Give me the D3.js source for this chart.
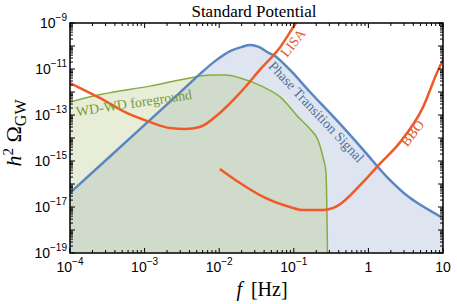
<!DOCTYPE html>
<html>
<head>
<meta charset="utf-8">
<script src="https://d3js.org/d3.v7.min.js"></script>
<style>
  body { margin: 0; background: #fff; }
  svg { display: block; }
  .serif { font-family: "Liberation Serif", "DejaVu Serif", serif; }
  .sans { font-family: "Liberation Sans", Arial, sans-serif; }
</style>
</head>
<body>
<svg width="457" height="304"></svg>
<script>
// phase transition signal (blue)
var ptFreq = [1e-4, 1e-3, 2.95e-3, 5.5e-3, 8.8e-3, 1.4e-2, 2.0e-2, 2.6e-2, 3.4e-2, 4.6e-2, 5.6e-2, 8.9e-2, 0.165, 0.417, 0.9, 1.78, 3.6, 10];
var ptOmega = [4.1e-17, 3.7e-14, 9.1e-13, 6.0e-12, 2.2e-11, 6.0e-11, 9.1e-11, 1.1e-10, 9.1e-11, 5.0e-11, 3.7e-11, 9.1e-12, 1.0e-12, 4.1e-14, 2.5e-15, 2.0e-16, 2.5e-17, 3.3e-18];

// WD-WD foreground (green)
var wdFreq = [1e-4, 2.75e-4, 1.17e-3, 4.1e-3, 7.6e-3, 1.2e-2, 1.9e-2, 3.9e-2, 6.6e-2, 0.121, 0.165, 0.211, 0.246, 0.27, 0.283];
var wdOmega = [3.7e-13, 8.1e-13, 1.8e-12, 4.1e-12, 5.5e-12, 5.5e-12, 4.1e-12, 1.66e-12, 6.0e-13, 6.8e-14, 2.45e-14, 8.1e-15, 1.5e-15, 3.3e-16, 1e-19];

// LISA sensitivity (orange)
var lisaFreq = [1e-4, 2.5e-4, 5.75e-4, 1.17e-3, 2.2e-3, 3.5e-3, 5.5e-3, 1.02e-2, 1.9e-2, 3.5e-2, 6.6e-2, 0.107, 0.16];
var lisaOmega = [2.45e-12, 5.5e-13, 1.23e-13, 5.0e-14, 2.7e-14, 2.45e-14, 3.0e-14, 1.23e-13, 9.1e-13, 9.1e-12, 9.1e-11, 1e-9, 6e-9];

// BBO sensitivity (orange)
var bboFreq = [0.0102, 0.019, 0.035, 0.089, 0.13, 0.245, 0.38, 0.78, 1.45, 2.6, 5.4, 8.3, 10.7];
var bboOmega = [4.5e-16, 1.1e-16, 3.3e-17, 1.0e-17, 7.4e-18, 7.4e-18, 1.1e-17, 9.1e-17, 8.1e-16, 6.0e-15, 2.2e-13, 6.8e-12, 4.1e-11];

var xTickExp = [-4, -3, -2, -1, 0, 1];
var xTickText = ["10", "10", "10", "10", "1", "10"];
var xTickSup = ["\u22124", "\u22123", "\u22122", "\u22121", "", ""];
var yLabelExp = [-9, -11, -13, -15, -17, -19];

var colBlue = "#5b86c2", colGreen = "#86ad3e", colOrange = "#f05a28";

var svg = d3.select("svg");
var mLeft = 70, mRight = 443, mTop = 23, mBottom = 253;

var x = d3.scaleLog().domain([1e-4, 10]).range([mLeft, mRight]);
var y = d3.scaleLog().domain([1e-19, 1e-9]).range([mBottom, mTop]);

function zip(a, b) { return a.map(function(d, i) { return [d, b[i]]; }); }

svg.append("clipPath").attr("id", "plotclip")
  .append("rect").attr("x", mLeft).attr("y", mTop)
  .attr("width", mRight - mLeft).attr("height", mBottom - mTop);

var g = svg.append("g").attr("clip-path", "url(#plotclip)");

function areaWith(curve) {
  return d3.area()
    .x(function(d) { return x(d[0]); })
    .y0(mBottom)
    .y1(function(d) { return y(d[1]); })
    .curve(curve);
}
function lineWith(curve) {
  return d3.line()
    .x(function(d) { return x(d[0]); })
    .y(function(d) { return y(d[1]); })
    .curve(curve);
}
var smooth = d3.curveCatmullRom.alpha(0.5);

var ptData = zip(ptFreq, ptOmega);
var wdData = zip(wdFreq, wdOmega);

g.append("path").attr("d", areaWith(smooth)(ptData)).attr("fill", "#dee5f0");
g.append("path").attr("d", areaWith(d3.curveMonotoneX)(wdData)).attr("fill", "rgb(176,194,120)").attr("fill-opacity", 0.3);
g.append("path").attr("d", lineWith(d3.curveMonotoneX)(wdData)).attr("fill", "none").attr("stroke", colGreen).attr("stroke-width", 1.5);
g.append("path").attr("d", lineWith(smooth)(ptData)).attr("fill", "none").attr("stroke", colBlue).attr("stroke-width", 2.5);
g.append("path").attr("d", lineWith(d3.curveMonotoneX)(zip(lisaFreq, lisaOmega))).attr("fill", "none").attr("stroke", colOrange).attr("stroke-width", 2.5);
g.append("path").attr("d", lineWith(d3.curveMonotoneX)(zip(bboFreq, bboOmega))).attr("fill", "none").attr("stroke", colOrange).attr("stroke-width", 2.5);

// curve labels
function curveLabel(text, f, om, angle, color) {
  svg.append("text").attr("class", "serif")
    .attr("transform", "translate(" + x(f) + "," + y(om) + ") rotate(" + angle + ")")
    .attr("text-anchor", "middle").attr("dominant-baseline", "central")
    .attr("font-size", 14).attr("fill", color).text(text);
}
curveLabel("WD-WD foreground", 7.2e-4, 3.3e-13, -8.5, "#7a9a3c");
curveLabel("LISA", 0.098, 1.35e-10, -52, "#e0582c");
curveLabel("Phase Transition Signal", 0.2, 1.35e-13, 47, "#4f6f9a");
curveLabel("BBO", 3.9, 1.6e-14, -52, "#e0582c");

// ticks on all four sides, pointing inward
var frame = svg.append("g").attr("stroke", "#000");
var minorX = [];
d3.range(-4, 1).forEach(function(e) { for (var k = 2; k <= 9; k++) minorX.push(k * Math.pow(10, e)); });
var majorX = xTickExp.map(function(e) { return Math.pow(10, e); });
var minorY = [];
d3.range(-19, -9).forEach(function(e) { for (var k = 2; k <= 9; k++) minorY.push(k * Math.pow(10, e)); });
var majorY = d3.range(-19, -8).map(function(e) { return Math.pow(10, e); });

function xTicks(vals, len) {
  vals.forEach(function(v) {
    var px = x(v);
    frame.append("line").attr("x1", px).attr("x2", px).attr("y1", mBottom).attr("y2", mBottom - len).attr("stroke-width", 1);
    frame.append("line").attr("x1", px).attr("x2", px).attr("y1", mTop).attr("y2", mTop + len).attr("stroke-width", 1);
  });
}
function yTicks(vals, len) {
  vals.forEach(function(v) {
    var py = y(v);
    frame.append("line").attr("y1", py).attr("y2", py).attr("x1", mLeft).attr("x2", mLeft + len).attr("stroke-width", 1);
    frame.append("line").attr("y1", py).attr("y2", py).attr("x1", mRight).attr("x2", mRight - len).attr("stroke-width", 1);
  });
}
xTicks(minorX, 3);
xTicks(majorX, 5);
yTicks(minorY, 3);
yTicks(majorY, 5);

frame.append("rect").attr("x", mLeft).attr("y", mTop)
  .attr("width", mRight - mLeft).attr("height", mBottom - mTop)
  .attr("fill", "none").attr("stroke-width", 1.5);

// tick labels
xTickExp.forEach(function(e, i) {
  var t = svg.append("text").attr("class", "sans").attr("font-size", 14)
    .attr("x", x(Math.pow(10, e))).attr("y", 272).attr("text-anchor", "middle");
  t.append("tspan").text(xTickText[i]);
  if (xTickSup[i]) t.append("tspan").attr("font-size", 10).attr("dy", -7).text(xTickSup[i]);
});
yLabelExp.forEach(function(e) {
  var t = svg.append("text").attr("class", "sans").attr("font-size", 14)
    .attr("x", 67).attr("y", y(Math.pow(10, e)) + 5).attr("text-anchor", "end");
  t.append("tspan").text("10");
  t.append("tspan").attr("font-size", 10).attr("dy", -7).text("\u2212" + (-e));
});

// titles
svg.append("text").attr("class", "serif").attr("font-size", 17)
  .attr("x", 254).attr("y", 17).attr("text-anchor", "middle")
  .text("Standard Potential");

var xl = svg.append("text").attr("class", "serif").attr("font-size", 20)
  .attr("x", 262).attr("y", 296).attr("text-anchor", "middle");
xl.append("tspan").attr("font-style", "italic").text("f");
xl.append("tspan").text("\u2009 [Hz]");

var yl = svg.append("text").attr("class", "serif").attr("font-size", 22)
  .attr("transform", "translate(21,133) rotate(-90)").attr("text-anchor", "middle");
yl.append("tspan").attr("font-style", "italic").text("h");
yl.append("tspan").attr("font-size", 15).attr("dy", -8).text("2");
yl.append("tspan").attr("dy", 8).text(" \u03a9");
yl.append("tspan").attr("font-size", 16).attr("dy", 5).text("GW");
</script>
</body>
</html>
